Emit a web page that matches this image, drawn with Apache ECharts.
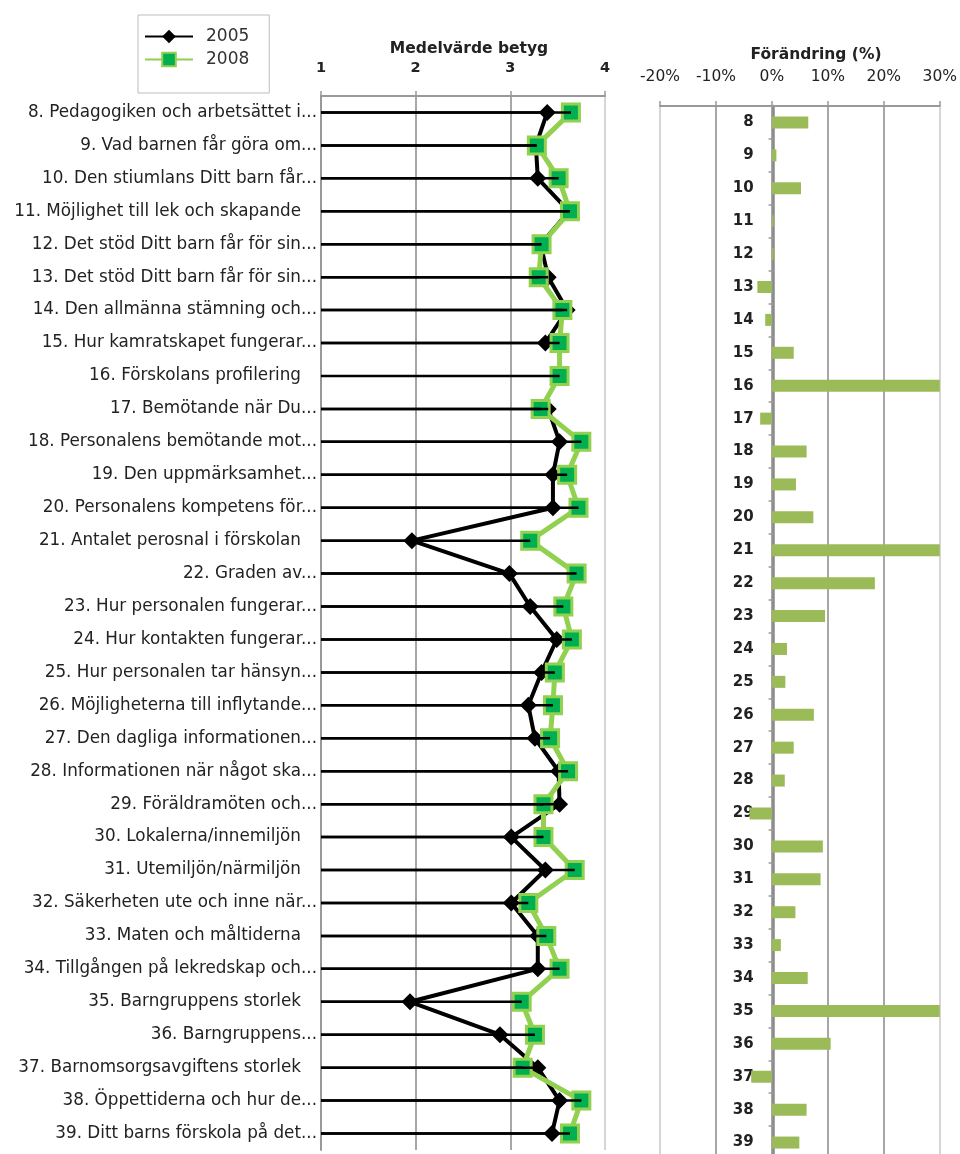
<!DOCTYPE html>
<html>
<head>
<meta charset="utf-8">
<script src="https://cdn.jsdelivr.net/npm/echarts@6/dist/echarts.min.js"></script>
<style>
html,body{margin:0;padding:0;background:#fff;overflow:hidden;}
#c{width:960px;height:1175px;}
</style>
</head>
<body>
<div id="c"></div>
<script>
const questions = [
 '8. Pedagogiken och arbetsättet i...',
 '9. Vad barnen får göra om...',
 '10. Den stiumlans Ditt barn får...',
 '11. Möjlighet till lek och skapande',
 '12. Det stöd Ditt barn får för sin...',
 '13. Det stöd Ditt barn får för sin...',
 '14. Den allmänna stämning och...',
 '15. Hur kamratskapet fungerar...',
 '16. Förskolans profilering',
 '17. Bemötande när Du...',
 '18. Personalens bemötande mot...',
 '19. Den uppmärksamhet...',
 '20. Personalens kompetens för...',
 '21. Antalet perosnal i förskolan',
 '22. Graden av...',
 '23. Hur personalen fungerar...',
 '24. Hur kontakten fungerar...',
 '25. Hur personalen tar hänsyn...',
 '26. Möjligheterna till inflytande...',
 '27. Den dagliga informationen...',
 '28. Informationen när något ska...',
 '29. Föräldramöten och...',
 '30. Lokalerna/innemiljön',
 '31. Utemiljön/närmiljön',
 '32. Säkerheten ute och inne när...',
 '33. Maten och måltiderna',
 '34. Tillgången på lekredskap och...',
 '35. Barngruppens storlek',
 '36. Barngruppens...',
 '37. Barnomsorgsavgiftens storlek',
 '38. Öppettiderna och hur de...',
 '39. Ditt barns förskola på det...'
];
const questionNumbers = ['8','9','10','11','12','13','14','15','16','17','18','19','20','21','22','23','24','25','26','27','28','29','30','31','32','33','34','35','36','37','38','39'];
const score2005 = [3.39,3.27,3.29,3.62,3.32,3.40,3.60,3.37,null,3.40,3.52,3.45,3.45,1.96,2.99,3.21,3.49,3.33,3.19,3.26,3.51,3.52,3.01,3.37,3.01,3.29,3.29,1.94,2.89,3.29,3.52,3.44];
const score2008 = [3.64,3.28,3.51,3.63,3.33,3.30,3.55,3.52,3.52,3.32,3.75,3.60,3.72,3.21,3.70,3.56,3.65,3.47,3.45,3.42,3.61,3.35,3.35,3.68,3.19,3.38,3.52,3.12,3.26,3.13,3.75,3.63];
const changePct = [6.5,0.8,5.2,0.3,0.3,-2.6,-1.2,3.9,50,-2.1,6.2,4.3,7.4,64,18.4,9.5,2.7,2.4,7.5,3.9,2.3,-4.0,9.1,8.7,4.2,1.6,6.4,61,10.5,-3.7,6.2,4.9];
const scoreTicks = {min:1, max:4, interval:1};
const pctTicks = {min:-20, max:30, interval:10};

const FONT = 'DejaVu Sans';
const labelText = questions.map(q => q.endsWith('...') ? q : q + '\u00a0\u00a0\u00a0');

function errBars(values){
  const d = [];
  values.forEach((v,i)=>{ if(v!==null) d.push([v,i]); });
  return d;
}
function renderErr(params, api){
  const v = api.value(0), c = api.value(1);
  const p0 = api.coord([scoreTicks.min, c]);
  const p1 = api.coord([v, c]);
  return {type:'line', shape:{x1:p0[0], y1:p0[1], x2:p1[0], y2:p1[1]}, style:{stroke:'#000', lineWidth:2.5}};
}

const RIGHT_LEFT = 660, RIGHT_W = 284;
const zeroOffset = -RIGHT_W * (0 - pctTicks.min) / (pctTicks.max - pctTicks.min);

const chart = echarts.init(document.getElementById('c'), null, {renderer:'canvas'});
chart.setOption({
  animation:false,
  backgroundColor:'#fff',
  title:[
    {text:'Medelvärde betyg', left:464, top:36, textAlign:'center', textStyle:{fontFamily:FONT, fontSize:15.5, fontWeight:'bold', color:'#222'}},
    {text:'Förändring (%)', left:811, top:42, textAlign:'center', textStyle:{fontFamily:FONT, fontSize:15.5, fontWeight:'bold', color:'#222'}}
  ],
  legend:{
    data:['2005','2008'], orient:'vertical', left:138, top:15,
    itemWidth:48, itemHeight:17, itemGap:6,
    padding:[13,20,25,6],
    borderColor:'#bdbdbd', borderWidth:1,
    textStyle:{fontFamily:FONT, fontSize:17, color:'#333', padding:[0,0,0,8]}
  },
  grid:[
    {left:321, top:96, width:284, height:1054},
    {left:RIGHT_LEFT, top:106, width:RIGHT_W, height:1053}
  ],
  xAxis:[
    {gridIndex:0, type:'value', position:'top', min:scoreTicks.min, max:scoreTicks.max, interval:scoreTicks.interval,
     axisLine:{show:true, lineStyle:{color:'#999', width:2}},
     axisTick:{show:true, length:5, lineStyle:{color:'#999', width:1.5}},
     axisLabel:{fontFamily:FONT, fontSize:14.5, fontWeight:'bold', color:'#222', margin:20},
     splitLine:{show:true, lineStyle:{color:['#999','#8a8a8a','#8a8a8a','#c8c8c8'], width:1.5}}},
    {gridIndex:1, type:'value', position:'top', min:pctTicks.min, max:pctTicks.max, interval:pctTicks.interval,
     axisLine:{show:true, lineStyle:{color:'#999', width:2}},
     axisTick:{show:true, length:5, lineStyle:{color:'#999', width:1.5}},
     axisLabel:{fontFamily:FONT, fontSize:15.5, color:'#222', margin:21, formatter:'{value}%'},
     splitLine:{show:true, lineStyle:{color:['#c8c8c8','#8a8a8a','#8a8a8a','#8a8a8a','#8a8a8a','#c8c8c8'], width:1.5}}}
  ],
  yAxis:[
    {gridIndex:0, type:'category', data:labelText, inverse:true,
     axisLine:{show:true, onZero:false, lineStyle:{color:'#999', width:2}},
     axisTick:{show:false},
     axisLabel:{fontFamily:FONT, fontSize:16.8, color:'#222', margin:4, interval:0},
     splitLine:{show:false}},
    {gridIndex:1, type:'category', data:questionNumbers, inverse:true, position:'left', offset:zeroOffset,
     axisLine:{show:true, onZero:false, lineStyle:{color:'#8a8a8a', width:2.5}},
     axisTick:{show:true, length:5, lineStyle:{color:'#999', width:1.5}},
     axisLabel:{fontFamily:FONT, fontSize:15, fontWeight:'bold', color:'#222', margin:20, interval:0},
     splitLine:{show:false}}
  ],
  series:[
    {name:'2005', type:'line', xAxisIndex:0, yAxisIndex:0, data:score2005, connectNulls:false,
     symbol:'diamond', symbolSize:17, showSymbol:true,
     lineStyle:{color:'#000', width:4}, itemStyle:{color:'#000'}, z:2},
    {name:'2008', type:'line', xAxisIndex:0, yAxisIndex:0, data:score2008,
     symbol:'rect', symbolSize:17, showSymbol:true,
     lineStyle:{color:'#92d050', width:5}, itemStyle:{color:'#00b050', borderColor:'#92d050', borderWidth:3}, z:3},
    {name:'err2005', type:'custom', xAxisIndex:0, yAxisIndex:0, data:errBars(score2005), renderItem:renderErr, encode:{x:0,y:1}, z:5, silent:true},
    {name:'err2008', type:'custom', xAxisIndex:0, yAxisIndex:0, data:errBars(score2008), renderItem:renderErr, encode:{x:0,y:1}, z:5, silent:true},
    {name:'Förändring', type:'bar', xAxisIndex:1, yAxisIndex:1, data:changePct, barWidth:12, clip:true,
     itemStyle:{color:'#9bbb59'}}
  ]
});
</script>
</body>
</html>
